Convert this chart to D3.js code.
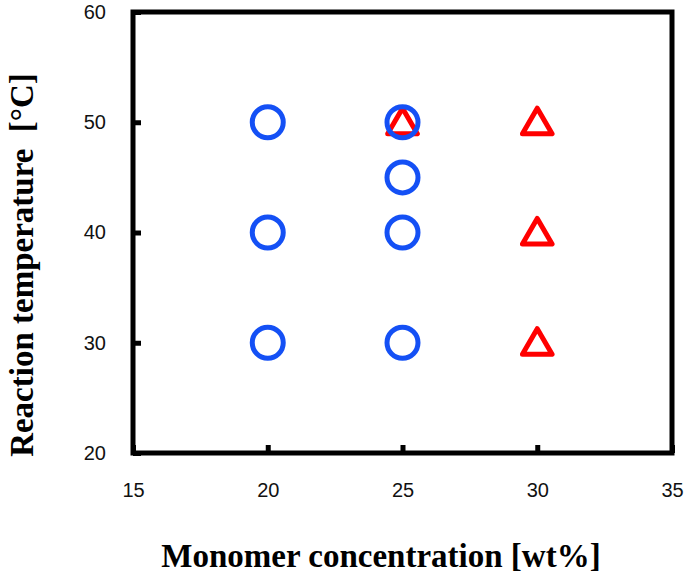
<!DOCTYPE html>
<html>
<head>
<meta charset="utf-8">
<script src="https://cdn.jsdelivr.net/npm/d3@7"></script>
<style>
  body { margin: 0; background: #fff; }
  svg { display: block; }
</style>
</head>
<body>
<svg id="chart" width="685" height="577"></svg>
<script>
// data
const circleConc = [20, 20, 20, 25, 25, 25, 25];
const circleTemp = [30, 40, 50, 30, 40, 45, 50];
const triConc = [25, 30, 30, 30];
const triTemp = [50, 30, 40, 50];
const xTicks = [15, 20, 25, 30, 35];
const yTicks = [20, 30, 40, 50, 60];

const svg = d3.select("#chart");

const x = d3.scaleLinear().domain([15, 35]).range([133, 672]);
const y = d3.scaleLinear().domain([20, 60]).range([453, 12]);

// axes (ticks point inward)
const xAxis = svg.append("g")
  .attr("transform", "translate(0,453)")
  .call(d3.axisBottom(x).tickValues(xTicks).tickSizeInner(-8).tickSizeOuter(0).tickPadding(30));
const yAxis = svg.append("g")
  .attr("transform", "translate(133,0)")
  .call(d3.axisLeft(y).tickValues(yTicks).tickSizeInner(-8).tickSizeOuter(0).tickPadding(27));

[xAxis, yAxis].forEach(ax => {
  ax.select(".domain").remove();
  ax.selectAll("line").attr("stroke", "#000").attr("stroke-width", 5);
  ax.selectAll("text")
    .attr("fill", "#111")
    .style("font-family", "'Liberation Sans', Arial, sans-serif")
    .style("font-size", "20px");
});

// frame
svg.append("rect")
  .attr("x", x(15)).attr("y", y(60))
  .attr("width", x(35) - x(15)).attr("height", y(20) - y(60))
  .attr("fill", "none").attr("stroke", "#000").attr("stroke-width", 5);

// triangles (drawn first, circles overlap them)
const tri = d3.symbol().type(d3.symbolTriangle).size(380);
svg.append("g").selectAll("path")
  .data(triConc.map((c, i) => ({ c, t: triTemp[i] })))
  .join("path")
  .attr("d", tri)
  .attr("transform", d => `translate(${x(d.c)},${y(d.t) + 3})`)
  .attr("fill", "none")
  .attr("stroke", "#ff0000")
  .attr("stroke-width", 5)
  .attr("stroke-linejoin", "round");

// circles
svg.append("g").selectAll("circle")
  .data(circleConc.map((c, i) => ({ c, t: circleTemp[i] })))
  .join("circle")
  .attr("cx", d => x(d.c))
  .attr("cy", d => y(d.t))
  .attr("r", 15.5)
  .attr("fill", "none")
  .attr("stroke", "#1450f5")
  .attr("stroke-width", 5);

// axis titles
svg.append("text")
  .attr("x", 381).attr("y", 567)
  .attr("text-anchor", "middle")
  .style("font-family", "'Liberation Serif', 'Times New Roman', serif")
  .style("font-weight", "bold")
  .style("font-size", "33px")
  .text("Monomer concentration [wt%]");

svg.append("text")
  .attr("transform", "translate(33,265) rotate(-90)")
  .attr("text-anchor", "middle")
  .style("font-family", "'Liberation Serif', 'Times New Roman', serif")
  .style("font-weight", "bold")
  .style("font-size", "33px")
  .style("white-space", "pre")
  .text("Reaction temperature  [°C]");
</script>
</body>
</html>
